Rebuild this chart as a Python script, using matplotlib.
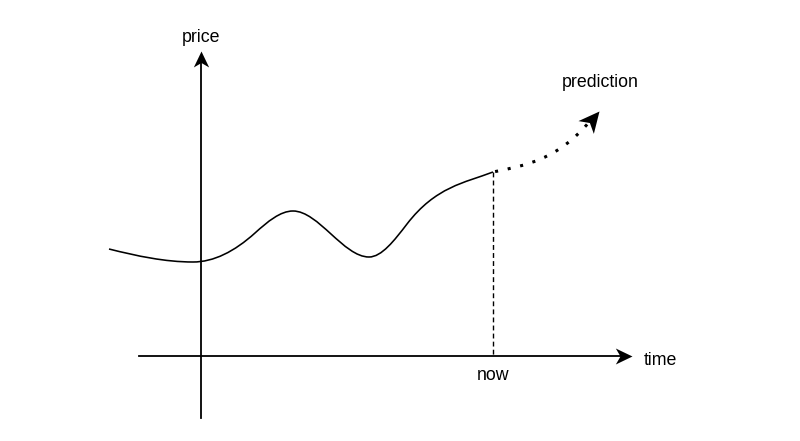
import numpy as np
import matplotlib
matplotlib.use("Agg")
import matplotlib.pyplot as plt
from matplotlib.path import Path
from matplotlib.patches import PathPatch
from matplotlib.markers import MarkerStyle
from matplotlib.transforms import Affine2D

plt.rcParams['font.family'] = ['Liberation Sans', 'DejaVu Sans']

# schematic drawn in pixel space of the 800x441 canvas
# knots of the price curve: position and slope at each knot
price_x = [109, 193, 255, 293, 369, 407, 493]
price_y = [249, 262, 233, 211, 257, 224, 172]
price_slope = [0.25, 0, -0.9, 0, 0, -1.3, -0.38]

pred_x = [493, 590]
pred_y = [172, 121]
pred_slope = [-0.2, -1.2]
pred_tip = (599, 111)

time_axis_x = [139, 624]
time_axis_y = 356
time_tip = 632
price_axis_y = [418, 58]
price_axis_x = 201
price_tip = 51
now_x = 493


def hermite_path(xs, ys, ms):
    # cubic hermite pieces written as bezier curves
    verts = [(xs[0], ys[0])]
    codes = [Path.MOVETO]
    for i in range(len(xs) - 1):
        d = (xs[i + 1] - xs[i]) / 3
        verts += [(xs[i] + d, ys[i] + d * ms[i]),
                  (xs[i + 1] - d, ys[i + 1] - d * ms[i + 1]),
                  (xs[i + 1], ys[i + 1])]
        codes += [Path.CURVE4] * 3
    return Path(verts, codes)


def arrow_head(angle):
    # draw.io style classic arrow head, tip at origin
    v = [(0, 0), (-1, 0.48), (-0.72, 0), (-1, -0.48), (0, 0)]
    c = [Path.MOVETO, Path.LINETO, Path.LINETO, Path.LINETO, Path.CLOSEPOLY]
    return MarkerStyle(Path(v, c), transform=Affine2D().rotate_deg(angle))


fig = plt.figure(figsize=(8, 4.41), dpi=100)
ax = fig.add_axes([0, 0, 1, 1])
ax.set_xlim(0, 800)
ax.set_ylim(441, 0)
ax.axis('off')

# axes
ax.plot(time_axis_x, [time_axis_y] * 2, color='black', lw=1.3)
ax.plot([price_axis_x] * 2, price_axis_y, color='black', lw=1.3)
ax.plot(time_tip, time_axis_y, marker=arrow_head(0), ms=24, color='black', mew=0)
ax.plot(price_axis_x, price_tip, marker=arrow_head(90), ms=23, color='black', mew=0)

# price history
ax.add_patch(PathPatch(hermite_path(price_x, price_y, price_slope), fill=False,
                       color='black', lw=1.15))

# now marker
ax.plot([now_x, now_x], [price_y[-1], time_axis_y], color='black', lw=1.0,
        linestyle=(0, (3.5, 2.3)))

# prediction
ax.add_patch(PathPatch(hermite_path(pred_x, pred_y, pred_slope), fill=False,
                       color='black', lw=2.2, linestyle=(3.5, (1, 3.2))))
ax.plot(*pred_tip, marker=arrow_head(np.degrees(np.arctan(-pred_slope[-1]))), ms=30,
        color='black', mew=0)

# labels
ax.text(price_axis_x, 42, 'price', fontsize=12.8, ha='center', va='baseline')
ax.text(644, 365, 'time', fontsize=12.8, ha='left', va='baseline')
ax.text(now_x, 380, 'now', fontsize=12.8, ha='center', va='baseline')
ax.text(600, 87, 'prediction', fontsize=12.8, ha='center', va='baseline')

fig.savefig('out.png', dpi=100, facecolor='white')
